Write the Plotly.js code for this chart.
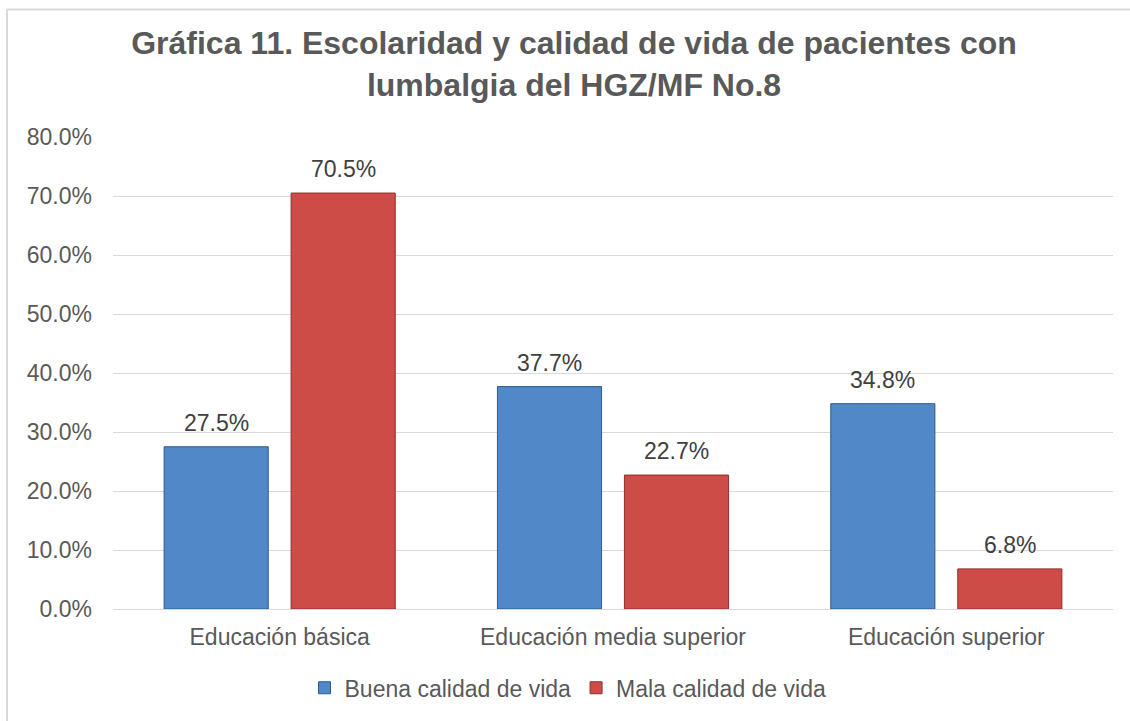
<!DOCTYPE html>
<html>
<head>
<meta charset="utf-8">
<script src="https://cdn.plot.ly/plotly-3.0.1.min.js"></script>
<style>
html,body{margin:0;padding:0;background:#fff;}
#chart{width:1130px;height:721px;}
</style>
</head>
<body>
<div id="chart"></div>
<script>
const categories = ["Educación básica", "Educación media superior", "Educación superior"];
const seriesNames = ["Buena calidad de vida", "Mala calidad de vida"];
const buenaValues = [27.5, 37.7, 34.8];
const malaValues = [70.5, 22.7, 6.8];
const yTickValues = [0, 10, 20, 30, 40, 50, 60, 70, 80];

const FONT = "Liberation Sans, Arial, sans-serif";
const bargap = 0.238;
const seriesValues = [buenaValues, malaValues];
const colors = ["#5088c8", "#cd4c48"];
const lineColors = ["#2e5a8f", "#8e2f2c"];

const traces = seriesValues.map((vals, i) => ({
  type: "bar",
  name: seriesNames[i],
  x: categories,
  y: vals,
  marker: {color: colors[i], line: {color: lineColors[i], width: 1}},
  hoverinfo: "none"
}));

const slot = (1 - bargap) / 2;
const annotations = [];
seriesValues.forEach((vals, i) => {
  vals.forEach((v, j) => {
    annotations.push({
      x: j + (i === 0 ? -slot / 2 : slot / 2),
      y: v,
      xref: "x", yref: "y",
      text: v.toFixed(1) + "%",
      showarrow: false,
      yanchor: "bottom",
      yshift: 9,
      font: {family: FONT, size: 23, color: "#404040"}
    });
  });
});

const layout = {
  width: 1130, height: 721,
  margin: {l: 113, r: 17, t: 137, b: 112},
  paper_bgcolor: "#ffffff",
  plot_bgcolor: "#ffffff",
  font: {family: FONT, color: "#595959", size: 23},
  title: {
    text: "<b>Gráfica 11. Escolaridad y calidad de vida de pacientes con<br>lumbalgia del HGZ/MF No.8</b>",
    x: 0.508, xanchor: "center",
    y: 0.925, yanchor: "middle",
    font: {family: FONT, size: 32, color: "#595959"}
  },
  barmode: "group",
  bargap: bargap,
  bargroupgap: 0.18,
  xaxis: {
    type: "category",
    showgrid: false,
    showline: true, linecolor: "#d9d9d9", linewidth: 1,
    ticks: "",
    ticklabelstandoff: 7,
    tickfont: {family: FONT, size: 23, color: "#595959"}
  },
  yaxis: {
    range: [0, 80],
    tickvals: yTickValues,
    ticktext: yTickValues.map(v => v.toFixed(1) + "%"),
    showgrid: true, gridcolor: "#d9d9d9", gridwidth: 1,
    zeroline: true, zerolinecolor: "#d9d9d9", zerolinewidth: 1,
    showline: false,
    ticks: "",
    ticklabelstandoff: 20,
    tickfont: {family: FONT, size: 23, color: "#595959"}
  },
  legend: {
    orientation: "h",
    x: 0.455, xanchor: "center",
    y: -0.167, yanchor: "middle",
    font: {family: FONT, size: 23, color: "#595959"},
    itemclick: false, itemdoubleclick: false,
    itemwidth: 30,
    traceorder: "normal"
  },
  annotations: annotations,
  shapes: [
    {type: "line", xref: "paper", yref: "paper", x0: -0.106, x1: -0.106, y0: 1.270, y1: -0.26, line: {color: "#d9d9d9", width: 2}},
    {type: "line", xref: "paper", yref: "paper", x0: -0.106, x1: 1.03, y0: 1.270, y1: 1.270, line: {color: "#d9d9d9", width: 2}}
  ],
  showlegend: true
};

Plotly.newPlot("chart", traces, layout, {displayModeBar: false, staticPlot: true});
</script>
</body>
</html>
